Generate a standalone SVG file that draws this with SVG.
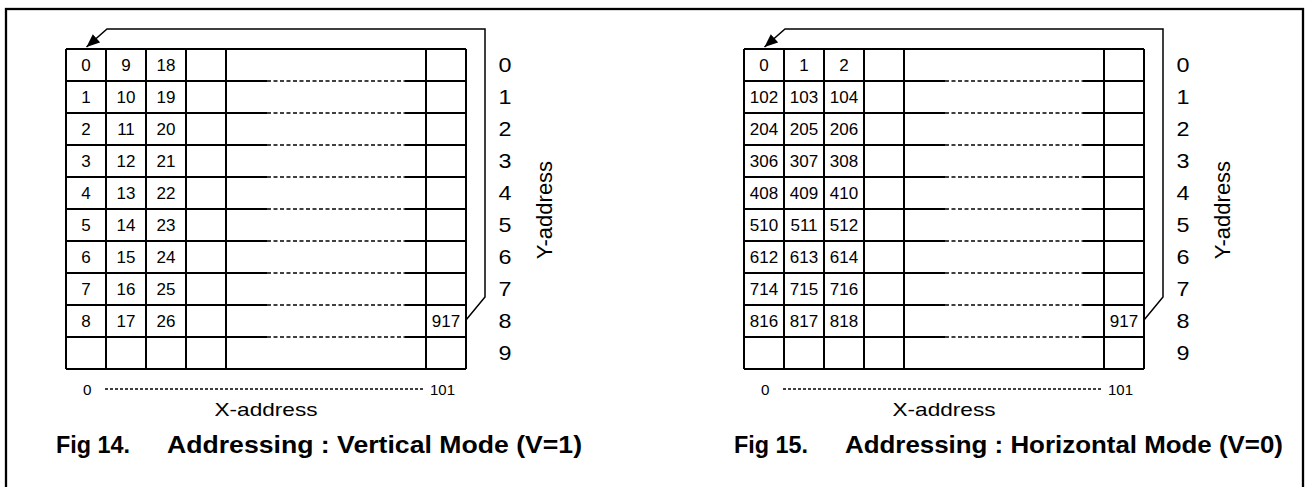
<svg xmlns="http://www.w3.org/2000/svg" width="1307" height="487" viewBox="0 0 1307 487">
<style>
text{font-family:"Liberation Sans",Arial,sans-serif;fill:#000}
.cell{font-size:17px;text-anchor:middle}
.yn{font-size:21px;text-anchor:middle}
.ax{font-size:14px}
.axl{font-size:19px;text-anchor:middle}
.ttl{font-size:23px;font-weight:bold}
.g{stroke:#000;stroke-width:2;fill:none}
.d{stroke:#000;stroke-width:1.6;stroke-dasharray:4 2.5;fill:none}
.dx{stroke:#000;stroke-width:1.6;stroke-dasharray:3 2;fill:none}
.wrap{stroke:#000;stroke-width:1.5;fill:none;marker-end:url(#ah)}
</style>
<defs>
<marker id="ah" markerUnits="userSpaceOnUse" viewBox="0 0 12 10" refX="12" refY="5" markerWidth="14" markerHeight="11" orient="auto">
<path d="M0,0 L12,5 L0,10 z" fill="#000"/>
</marker>
<g id="grid">
<path class="g" d="M66,49H466M66,369H466M66,49V369M106,49V369M146,49V369M186,49V369M226,49V369M426,49V369M466,49V369"/>
<path class="g" d="M66,81H267M405,81H466M66,113H267M405,113H466M66,145H267M405,145H466M66,177H267M405,177H466M66,209H267M405,209H466M66,241H267M405,241H466M66,273H267M405,273H466M66,305H267M405,305H466M66,337H267M405,337H466"/>
<path class="d" d="M267,81H405M267,113H405M267,145H405M267,177H405M267,209H405M267,241H405M267,273H405M267,305H405M267,337H405"/>
</g>
<g id="yaxis">
<text class="yn" x="505" y="71.7" textLength="13" lengthAdjust="spacingAndGlyphs">0</text>
<text class="yn" x="505" y="103.7" textLength="13" lengthAdjust="spacingAndGlyphs">1</text>
<text class="yn" x="505" y="135.7" textLength="13" lengthAdjust="spacingAndGlyphs">2</text>
<text class="yn" x="505" y="167.7" textLength="13" lengthAdjust="spacingAndGlyphs">3</text>
<text class="yn" x="505" y="199.7" textLength="13" lengthAdjust="spacingAndGlyphs">4</text>
<text class="yn" x="505" y="231.7" textLength="13" lengthAdjust="spacingAndGlyphs">5</text>
<text class="yn" x="505" y="263.7" textLength="13" lengthAdjust="spacingAndGlyphs">6</text>
<text class="yn" x="505" y="295.7" textLength="13" lengthAdjust="spacingAndGlyphs">7</text>
<text class="yn" x="505" y="327.7" textLength="13" lengthAdjust="spacingAndGlyphs">8</text>
<text class="yn" x="505" y="359.7" textLength="13" lengthAdjust="spacingAndGlyphs">9</text>
<text class="axl" transform="translate(551.5,210) rotate(-90)" style="font-size:22px">Y-address</text>
<text class="ax" x="83" y="395" textLength="8.5" lengthAdjust="spacingAndGlyphs">0</text>
<path class="dx" d="M105,389H424"/>
<text class="ax" x="430" y="395" textLength="25" lengthAdjust="spacingAndGlyphs">101</text>
<text class="axl" x="266" y="416" textLength="103" lengthAdjust="spacingAndGlyphs">X-address</text>
</g>
</defs>
<rect x="6" y="9" width="1297" height="492" fill="none" stroke="#000" stroke-width="2.3"/>

<g id="fig14">
<g id="fig14-grid"><use href="#grid"/></g>
<g id="fig14-cells">
<text class="cell" x="86" y="70.7">0</text><text class="cell" x="126" y="70.7">9</text><text class="cell" x="166" y="70.7">18</text>
<text class="cell" x="86" y="102.7">1</text><text class="cell" x="126" y="102.7">10</text><text class="cell" x="166" y="102.7">19</text>
<text class="cell" x="86" y="134.7">2</text><text class="cell" x="126" y="134.7">11</text><text class="cell" x="166" y="134.7">20</text>
<text class="cell" x="86" y="166.7">3</text><text class="cell" x="126" y="166.7">12</text><text class="cell" x="166" y="166.7">21</text>
<text class="cell" x="86" y="198.7">4</text><text class="cell" x="126" y="198.7">13</text><text class="cell" x="166" y="198.7">22</text>
<text class="cell" x="86" y="230.7">5</text><text class="cell" x="126" y="230.7">14</text><text class="cell" x="166" y="230.7">23</text>
<text class="cell" x="86" y="262.7">6</text><text class="cell" x="126" y="262.7">15</text><text class="cell" x="166" y="262.7">24</text>
<text class="cell" x="86" y="294.7">7</text><text class="cell" x="126" y="294.7">16</text><text class="cell" x="166" y="294.7">25</text>
<text class="cell" x="86" y="326.7">8</text><text class="cell" x="126" y="326.7">17</text><text class="cell" x="166" y="326.7">26</text>
<text class="cell" x="446" y="326.7">917</text>
</g>
<g id="fig14-axes"><use href="#yaxis"/></g>
<g id="fig14-title">
<text class="ttl" x="56" y="453" textLength="74" lengthAdjust="spacingAndGlyphs">Fig 14.</text>
<text class="ttl" x="167" y="453" textLength="415" lengthAdjust="spacingAndGlyphs">Addressing : Vertical Mode (V=1)</text>
</g>
</g>

<g id="fig15">
<g id="fig15-grid"><use href="#grid" x="678"/></g>
<g id="fig15-cells">
<text class="cell" x="764" y="70.7">0</text><text class="cell" x="804" y="70.7">1</text><text class="cell" x="844" y="70.7">2</text>
<text class="cell" x="764" y="102.7">102</text><text class="cell" x="804" y="102.7">103</text><text class="cell" x="844" y="102.7">104</text>
<text class="cell" x="764" y="134.7">204</text><text class="cell" x="804" y="134.7">205</text><text class="cell" x="844" y="134.7">206</text>
<text class="cell" x="764" y="166.7">306</text><text class="cell" x="804" y="166.7">307</text><text class="cell" x="844" y="166.7">308</text>
<text class="cell" x="764" y="198.7">408</text><text class="cell" x="804" y="198.7">409</text><text class="cell" x="844" y="198.7">410</text>
<text class="cell" x="764" y="230.7">510</text><text class="cell" x="804" y="230.7">511</text><text class="cell" x="844" y="230.7">512</text>
<text class="cell" x="764" y="262.7">612</text><text class="cell" x="804" y="262.7">613</text><text class="cell" x="844" y="262.7">614</text>
<text class="cell" x="764" y="294.7">714</text><text class="cell" x="804" y="294.7">715</text><text class="cell" x="844" y="294.7">716</text>
<text class="cell" x="764" y="326.7">816</text><text class="cell" x="804" y="326.7">817</text><text class="cell" x="844" y="326.7">818</text>
<text class="cell" x="1124" y="326.7">917</text>
</g>
<g id="fig15-axes"><use href="#yaxis" x="678"/></g>
<g id="fig15-title">
<text class="ttl" x="734" y="453" textLength="74" lengthAdjust="spacingAndGlyphs">Fig 15.</text>
<text class="ttl" x="845" y="453" textLength="438" lengthAdjust="spacingAndGlyphs">Addressing : Horizontal Mode (V=0)</text>
</g>
</g>

<g id="connectors">
<path class="wrap" d="M466,320 L485,297 L485,29 L107,29 L86.5,47"/>
<path class="wrap" d="M1144,320 L1163,297 L1163,29 L785,29 L764.5,47"/>
</g>
</svg>
